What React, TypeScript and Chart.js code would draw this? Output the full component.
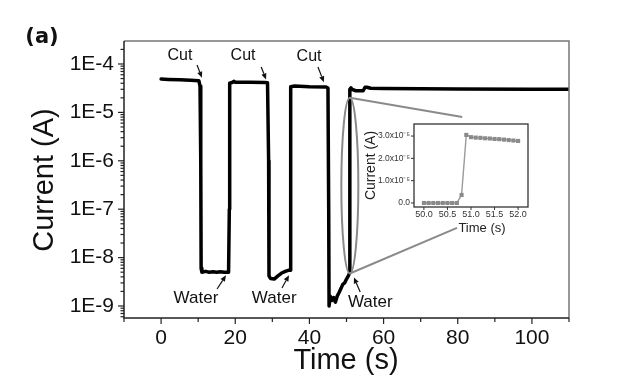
import React, { useEffect, useRef } from "react";
import { Chart, registerables } from "chart.js";

Chart.register(...registerables);

// ---------- data ----------
const mainTime = [
  0, 2, 5, 8, 10.2, 10.5, 10.7, 10.8, 11, 12, 13, 14, 15, 16, 17, 18.2, 18.4, 18.5, 19.3, 19.6, 20, 24, 28, 28.7,
  29.0, 29.1, 29.5, 30.5, 31.5, 32.5, 33.5, 34.5, 34.8, 34.9, 35.0, 36, 40, 44.5, 45.0, 45.2, 45.3, 45.6, 46.0,
  46.5, 47.0, 47.5, 48.0, 48.5, 49.0, 49.5, 50.0, 50.5, 50.8, 50.9, 51.2, 51.5, 52.5, 54.5, 55.0, 55.5, 56.5,
  60, 80, 100, 110,
];
const mainCurrent = [
  4.9e-5, 4.8e-5, 4.7e-5, 4.6e-5, 4.5e-5, 3.5e-5, 1e-6, 6e-9, 5e-9, 5.2e-9, 5.0e-9, 5.1e-9, 5.0e-9, 5.1e-9, 5.0e-9,
  5.0e-9, 1e-7, 4.0e-5, 4.2e-5, 4.4e-5, 4.2e-5, 4.2e-5, 4.15e-5, 4.1e-5, 1e-6, 4.2e-9, 3.7e-9, 3.6e-9, 4.2e-9,
  4.8e-9, 5.2e-9, 5.5e-9, 5.5e-9, 1e-7, 3.4e-5, 3.5e-5, 3.4e-5, 3.35e-5, 3.2e-5, 1e-7, 1.0e-9, 1.6e-9, 1.3e-9,
  1.5e-9, 1.2e-9, 1.6e-9, 1.9e-9, 2.3e-9, 2.8e-9, 3.0e-9, 3.6e-9, 4.2e-9, 4.8e-9, 3.0e-5, 3.2e-5, 3.0e-5, 2.8e-5,
  2.8e-5, 3.3e-5, 3.3e-5, 3.15e-5, 3.1e-5, 3.05e-5, 3.0e-5, 3.0e-5,
];
const yTickValues = [1e-9, 1e-8, 1e-7, 1e-6, 1e-5, 1e-4];
const xTickValues = [0, 20, 40, 60, 80, 100];
const xMinorValues = [-10, 10, 30, 50, 70, 90, 110];

const insetTime = [
  50.0, 50.1, 50.2, 50.3, 50.4, 50.5, 50.6, 50.7, 50.8, 50.9, 51.0, 51.1, 51.2, 51.3, 51.4, 51.5, 51.6, 51.7,
  51.8, 51.9, 52.0,
];
const insetCurrent = [
  0, 0, 0, 0, 0, 0, 0, 0, 0.36e-5, 3.05e-5, 2.95e-5, 2.93e-5, 2.92e-5, 2.9e-5, 2.89e-5, 2.87e-5, 2.86e-5,
  2.84e-5, 2.82e-5, 2.8e-5, 2.78e-5,
];
const insetXTicks = [50.0, 50.5, 51.0, 51.5, 52.0];
const insetYTicks = [0, 1e-5, 2e-5, 3e-5];

const cutLabels = ["Cut", "Cut", "Cut"];
const waterLabels = ["Water", "Water", "Water"];

// annotation anchors in data units (time, current)
const cutText = [[5.1, 1.46e-4], [22.1, 1.46e-4], [39.9, 1.4e-4]];
const cutArrows = [[9.7, 9.5e-5, 11.0, 5.2e-5], [27.0, 8.7e-5, 28.3, 4.8e-5], [42.3, 8.7e-5, 43.9, 4.2e-5]];
const waterText = [[9.4, 1.46e-9], [30.5, 1.46e-9], [56.4, 1.21e-9]];
const waterArrows = [[15.1, 2.24e-9, 17.5, 4.3e-9], [32.6, 2.36e-9, 34.5, 4.3e-9], [53.7, 1.95e-9, 52.0, 3.9e-9]];

const FONT = "'Liberation Sans', Arial, sans-serif";

function drawArrow(ctx: CanvasRenderingContext2D, x1: number, y1: number, x2: number, y2: number) {
  const a = Math.atan2(y2 - y1, x2 - x1);
  const hl = 6, hw = 2.6;
  ctx.save();
  ctx.strokeStyle = "#111";
  ctx.fillStyle = "#111";
  ctx.lineWidth = 1.2;
  ctx.beginPath();
  ctx.moveTo(x1, y1);
  ctx.lineTo(x2 - hl * Math.cos(a), y2 - hl * Math.sin(a));
  ctx.stroke();
  ctx.beginPath();
  ctx.moveTo(x2, y2);
  ctx.lineTo(x2 - hl * Math.cos(a) + hw * Math.sin(a), y2 - hl * Math.sin(a) - hw * Math.cos(a));
  ctx.lineTo(x2 - hl * Math.cos(a) - hw * Math.sin(a), y2 - hl * Math.sin(a) + hw * Math.cos(a));
  ctx.closePath();
  ctx.fill();
  ctx.restore();
}

const mainDecor = {
  id: "mainDecor",
  afterDraw(chart: any) {
    const ctx: CanvasRenderingContext2D = chart.ctx;
    const xs = chart.scales.x, ys = chart.scales.y;
    const { left, right, top, bottom } = chart.chartArea;
    const P = (x: number, y: number) => [xs.getPixelForValue(x), ys.getPixelForValue(y)];
    ctx.save();
    // frame
    ctx.lineCap = "butt";
    ctx.strokeStyle = "#777";
    ctx.lineWidth = 1.5;
    ctx.beginPath();
    ctx.moveTo(left, top);
    ctx.lineTo(right, top);
    ctx.lineTo(right, bottom);
    ctx.stroke();
    ctx.strokeStyle = "#222";
    ctx.beginPath();
    ctx.moveTo(left, top);
    ctx.lineTo(left, bottom);
    ctx.lineTo(right, bottom);
    ctx.stroke();
    // y ticks
    ctx.lineWidth = 1.2;
    for (let e = -10; e <= -3; e++) {
      for (let k = 1; k <= 9; k++) {
        const v = k * Math.pow(10, e);
        if (v < ys.min || v > ys.max) continue;
        const py = ys.getPixelForValue(v);
        const len = k === 1 ? 6 : 3.5;
        ctx.beginPath();
        ctx.moveTo(left, py);
        ctx.lineTo(left - len, py);
        ctx.stroke();
      }
    }
    // x ticks
    xTickValues.forEach((v) => {
      const px = xs.getPixelForValue(v);
      ctx.beginPath();
      ctx.moveTo(px, bottom);
      ctx.lineTo(px, bottom + 6);
      ctx.stroke();
    });
    xMinorValues.forEach((v) => {
      const px = xs.getPixelForValue(v);
      ctx.beginPath();
      ctx.moveTo(px, bottom);
      ctx.lineTo(px, bottom + 4);
      ctx.stroke();
    });
    // titles
    ctx.fillStyle = "#111";
    ctx.textAlign = "center";
    ctx.textBaseline = "middle";
    ctx.font = `29px ${FONT}`;
    ctx.fillText("Time (s)", 346, 361);
    ctx.save();
    ctx.translate(45, (top + bottom) / 2 + 0.5);
    ctx.rotate(-Math.PI / 2);
    ctx.fillText("Current (A)", 0, 0);
    ctx.restore();
    ctx.font = "bold 21px 'DejaVu Sans', sans-serif";
    ctx.fillText("(a)", 42, 38);
    // annotations
    ctx.font = `16px ${FONT}`;
    cutText.forEach((t, i) => {
      const [px, py] = P(t[0], t[1]);
      ctx.fillText(cutLabels[i], px, py);
    });
    ctx.font = `17px ${FONT}`;
    waterText.forEach((t, i) => {
      const [px, py] = P(t[0], t[1]);
      ctx.fillText(waterLabels[i], px, py);
    });
    [...cutArrows, ...waterArrows].forEach((a) => {
      const [x1, y1] = P(a[0], a[1]);
      const [x2, y2] = P(a[2], a[3]);
      drawArrow(ctx, x1, y1, x2, y2);
    });
    // ellipse and connectors
    const [ex, eTop] = P(50.9, 2e-5);
    const [, eBot] = P(50.9, 4.7e-9);
    ctx.strokeStyle = "#8a8a8a";
    ctx.lineWidth = 2;
    ctx.beginPath();
    ctx.ellipse(ex, (eTop + eBot) / 2, 8.5, (eBot - eTop) / 2, 0, 0, Math.PI * 2);
    ctx.stroke();
    const [c1x, c1y] = P(81.2, 8.0e-6);
    const [c2x, c2y] = P(79.8, 4.1e-8);
    ctx.beginPath();
    ctx.moveTo(ex, eTop);
    ctx.lineTo(c1x, c1y);
    ctx.moveTo(ex, eBot);
    ctx.lineTo(c2x, c2y);
    ctx.stroke();
    ctx.restore();
  },
};

const insetDecor = {
  id: "insetDecor",
  afterDraw(chart: any) {
    const ctx: CanvasRenderingContext2D = chart.ctx;
    const xs = chart.scales.x, ys = chart.scales.y;
    const { left, right, top, bottom } = chart.chartArea;
    ctx.save();
    ctx.strokeStyle = "#333";
    ctx.lineWidth = 1.3;
    ctx.strokeRect(left, top, right - left, bottom - top);
    ctx.lineWidth = 1;
    insetXTicks.forEach((v) => {
      const px = xs.getPixelForValue(v);
      ctx.beginPath();
      ctx.moveTo(px, bottom);
      ctx.lineTo(px, bottom + 3);
      ctx.stroke();
    });
    insetYTicks.forEach((v) => {
      const py = ys.getPixelForValue(v);
      ctx.beginPath();
      ctx.moveTo(left, py);
      ctx.lineTo(left - 3, py);
      ctx.stroke();
    });
    ctx.fillStyle = "#222";
    ctx.textAlign = "center";
    ctx.textBaseline = "middle";
    ctx.font = `13px ${FONT}`;
    ctx.fillText("Time (s)", 122, 118);
    ctx.save();
    ctx.font = `14px ${FONT}`;
    ctx.translate(11, (top + bottom) / 2);
    ctx.rotate(-Math.PI / 2);
    ctx.fillText("Current (A)", 0, 0);
    ctx.restore();
    ctx.restore();
  },
};

export default function App() {
  const mainRef = useRef<HTMLCanvasElement>(null);
  const insetRef = useRef<HTMLCanvasElement>(null);

  useEffect(() => {
    document.body.style.margin = "0";
    const main = new Chart(mainRef.current!, {
      type: "line",
      data: {
        datasets: [
          {
            data: mainTime.map((t, i) => ({ x: t, y: mainCurrent[i] })),
            borderColor: "#000",
            borderWidth: 3.5,
            pointRadius: 0,
            tension: 0,
            borderJoinStyle: "round",
            borderCapStyle: "round",
          },
        ],
      },
      options: {
        responsive: false,
        animation: false,
        events: [],
        layout: { padding: { top: 41, right: 51, left: 0, bottom: 0 } },
        plugins: { legend: { display: false }, tooltip: { enabled: false } },
        scales: {
          x: {
            type: "linear",
            min: -10,
            max: 110,
            grid: { display: false, drawTicks: false },
            border: { display: false },
            afterFit: (s: any) => {
              s.height = 72;
            },
            afterBuildTicks: (s: any) => {
              s.ticks = xTickValues.map((v) => ({ value: v }));
            },
            ticks: {
              autoSkip: false,
              maxRotation: 0,
              padding: 8,
              color: "#111",
              font: { family: FONT, size: 21 },
            },
          },
          y: {
            type: "logarithmic",
            min: 5.65e-10,
            max: 2.985e-4,
            grid: { display: false, drawTicks: false },
            border: { display: false },
            afterFit: (s: any) => {
              s.width = 124;
            },
            afterBuildTicks: (s: any) => {
              s.ticks = yTickValues.map((v) => ({ value: v }));
            },
            ticks: {
              autoSkip: false,
              padding: 10,
              color: "#111",
              font: { family: FONT, size: 21 },
              callback: (v: any) => "1E" + Math.round(Math.log10(Number(v))),
            },
          },
        },
      },
      plugins: [mainDecor],
    } as any);

    const inset = new Chart(insetRef.current!, {
      type: "line",
      data: {
        datasets: [
          {
            data: insetTime.map((t, i) => ({ x: t, y: insetCurrent[i] })),
            borderColor: "#9a9a9a",
            borderWidth: 1.4,
            pointStyle: "rect",
            pointRadius: 2.9,
            pointBackgroundColor: "#8a8a8a",
            pointBorderWidth: 0,
            tension: 0,
          },
        ],
      },
      options: {
        responsive: false,
        animation: false,
        events: [],
        layout: { padding: { top: 14, right: 12, left: 0, bottom: 0 } },
        plugins: { legend: { display: false }, tooltip: { enabled: false } },
        scales: {
          x: {
            type: "linear",
            min: 49.79,
            max: 52.21,
            grid: { display: false, drawTicks: false },
            border: { display: false },
            afterFit: (s: any) => {
              s.height = 33;
            },
            afterBuildTicks: (s: any) => {
              s.ticks = insetXTicks.map((v) => ({ value: v }));
            },
            ticks: {
              autoSkip: false,
              maxRotation: 0,
              padding: 2,
              color: "#333",
              font: { family: FONT, size: 9 },
              callback: (v: any) => Number(v).toFixed(1),
            },
          },
          y: {
            type: "linear",
            min: -0.18e-5,
            max: 3.54e-5,
            grid: { display: false, drawTicks: false },
            border: { display: false },
            afterFit: (s: any) => {
              s.width = 54;
            },
            afterBuildTicks: (s: any) => {
              s.ticks = insetYTicks.map((v) => ({ value: v }));
            },
            ticks: {
              autoSkip: false,
              padding: 4,
              color: "#333",
              font: { family: FONT, size: 8.5 },
              callback: (v: any) =>
                Number(v) === 0 ? "0.0" : (Number(v) / 1e-5).toFixed(1) + "x10\u207B\u2075",
            },
          },
        },
      },
      plugins: [insetDecor],
    } as any);

    return () => {
      main.destroy();
      inset.destroy();
    };
  }, []);

  return (
    <div style={{ position: "fixed", left: 0, top: 0, width: 620, height: 390, background: "#fff" }}>
      <canvas ref={mainRef} width={620} height={390} style={{ position: "absolute", left: 0, top: 0 }} />
      <canvas ref={insetRef} width={180} height={130} style={{ position: "absolute", left: 360, top: 110 }} />
    </div>
  );
}
